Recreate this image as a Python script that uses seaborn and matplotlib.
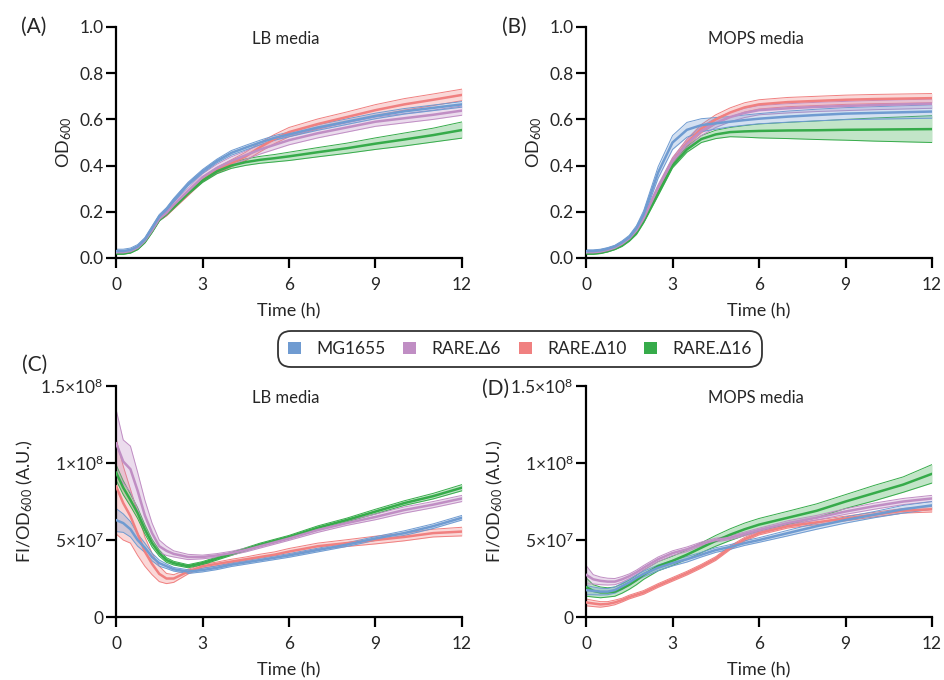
import numpy as np
import pandas as pd
import matplotlib
matplotlib.use("Agg")
import matplotlib.pyplot as plt
import seaborn as sns
from matplotlib.patches import Patch

# sampling times (h)
TIME = [0, 0.25, 0.5, 0.75, 1, 1.25, 1.5, 1.75, 2, 2.5, 3, 3.5, 4, 4.5, 5, 5.5, 6, 7, 8, 9, 10, 11, 12]

STRAINS = ["MG1655", "RARE.Δ6", "RARE.Δ10", "RARE.Δ16"]
COLORS = ["#6f9bd1", "#c08ec4", "#f08080", "#36ab4a"]
DRAW_ORDER = ["RARE.Δ10", "RARE.Δ16", "RARE.Δ6", "MG1655"]

# (A) OD600, LB media: mean and sd
LB_OD_MG1655 = [0.030, 0.030, 0.035, 0.050, 0.080, 0.130, 0.180, 0.210, 0.250, 0.320, 0.375, 0.420, 0.455, 0.478, 0.500, 0.520, 0.535, 0.565, 0.590, 0.615, 0.635, 0.650, 0.665]
LB_OD_MG1655_SD = [0.008, 0.008, 0.008, 0.008, 0.008, 0.008, 0.008, 0.008, 0.008, 0.008, 0.008, 0.008, 0.010, 0.010, 0.010, 0.010, 0.010, 0.012, 0.012, 0.012, 0.012, 0.012, 0.012]
LB_OD_D6 = [0.025, 0.025, 0.030, 0.045, 0.075, 0.120, 0.170, 0.195, 0.230, 0.290, 0.350, 0.390, 0.420, 0.445, 0.470, 0.490, 0.510, 0.540, 0.565, 0.590, 0.605, 0.620, 0.638]
LB_OD_D6_SD = [0.005, 0.005, 0.005, 0.005, 0.005, 0.006, 0.008, 0.008, 0.010, 0.012, 0.014, 0.016, 0.018, 0.018, 0.020, 0.020, 0.020, 0.020, 0.020, 0.020, 0.020, 0.020, 0.020]
LB_OD_D10 = [0.025, 0.025, 0.030, 0.045, 0.075, 0.120, 0.170, 0.190, 0.220, 0.280, 0.340, 0.380, 0.410, 0.440, 0.480, 0.515, 0.545, 0.580, 0.610, 0.640, 0.665, 0.685, 0.706]
LB_OD_D10_SD = [0.005, 0.005, 0.005, 0.005, 0.005, 0.006, 0.008, 0.008, 0.008, 0.010, 0.010, 0.012, 0.015, 0.018, 0.020, 0.020, 0.020, 0.022, 0.022, 0.024, 0.025, 0.025, 0.025]
LB_OD_D16 = [0.020, 0.020, 0.025, 0.040, 0.070, 0.115, 0.165, 0.190, 0.220, 0.280, 0.335, 0.375, 0.400, 0.415, 0.425, 0.432, 0.440, 0.458, 0.475, 0.495, 0.513, 0.532, 0.554]
LB_OD_D16_SD = [0.004, 0.004, 0.004, 0.004, 0.005, 0.005, 0.005, 0.005, 0.006, 0.006, 0.008, 0.010, 0.012, 0.014, 0.015, 0.016, 0.018, 0.020, 0.022, 0.025, 0.028, 0.030, 0.035]

# (B) OD600, MOPS media
MOPS_OD_MG1655 = [0.030, 0.030, 0.033, 0.040, 0.050, 0.068, 0.090, 0.130, 0.190, 0.370, 0.500, 0.555, 0.575, 0.583, 0.590, 0.597, 0.603, 0.612, 0.619, 0.625, 0.628, 0.631, 0.634]
MOPS_OD_MG1655_SD = [0.005, 0.005, 0.005, 0.005, 0.005, 0.006, 0.008, 0.010, 0.015, 0.025, 0.030, 0.032, 0.028, 0.025, 0.022, 0.022, 0.022, 0.024, 0.025, 0.026, 0.027, 0.028, 0.029]
MOPS_OD_D6 = [0.025, 0.025, 0.028, 0.035, 0.045, 0.062, 0.085, 0.120, 0.172, 0.305, 0.420, 0.495, 0.550, 0.585, 0.610, 0.628, 0.640, 0.648, 0.654, 0.658, 0.662, 0.665, 0.668]
MOPS_OD_D6_SD = [0.004, 0.004, 0.004, 0.004, 0.004, 0.005, 0.006, 0.008, 0.010, 0.012, 0.015, 0.018, 0.020, 0.020, 0.020, 0.020, 0.020, 0.020, 0.020, 0.020, 0.020, 0.020, 0.020]
MOPS_OD_D10 = [0.025, 0.025, 0.028, 0.035, 0.045, 0.062, 0.085, 0.120, 0.170, 0.300, 0.420, 0.500, 0.560, 0.600, 0.630, 0.652, 0.665, 0.675, 0.680, 0.685, 0.688, 0.690, 0.692]
MOPS_OD_D10_SD = [0.004, 0.004, 0.004, 0.004, 0.004, 0.005, 0.006, 0.008, 0.008, 0.010, 0.012, 0.015, 0.018, 0.020, 0.020, 0.020, 0.020, 0.020, 0.020, 0.020, 0.020, 0.020, 0.020]
MOPS_OD_D16 = [0.020, 0.020, 0.023, 0.030, 0.040, 0.055, 0.078, 0.110, 0.160, 0.280, 0.400, 0.470, 0.515, 0.535, 0.545, 0.548, 0.550, 0.552, 0.553, 0.555, 0.556, 0.557, 0.558]
MOPS_OD_D16_SD = [0.004, 0.004, 0.004, 0.004, 0.004, 0.005, 0.006, 0.008, 0.008, 0.010, 0.010, 0.012, 0.015, 0.018, 0.020, 0.025, 0.030, 0.035, 0.040, 0.045, 0.050, 0.054, 0.058]

# (C) FI/OD600, LB media, in units of 1e7
LB_FI_MG1655 = [6.3, 6.1, 5.7, 5.0, 4.5, 3.9, 3.5, 3.3, 3.1, 2.95, 3.05, 3.2, 3.4, 3.55, 3.7, 3.85, 4.0, 4.35, 4.7, 5.1, 5.45, 5.9, 6.45]
LB_FI_MG1655_SD = [0.75, 0.6, 0.5, 0.4, 0.3, 0.25, 0.2, 0.15, 0.12, 0.12, 0.12, 0.12, 0.12, 0.12, 0.12, 0.12, 0.12, 0.12, 0.12, 0.12, 0.15, 0.15, 0.15]
LB_FI_D6 = [11.3, 10.1, 9.6, 8.2, 6.6, 5.45, 4.6, 4.3, 4.1, 3.9, 3.9, 4.0, 4.15, 4.35, 4.6, 4.85, 5.1, 5.65, 6.1, 6.5, 6.95, 7.3, 7.7]
LB_FI_D6_SD = [2.2, 1.4, 1.5, 1.2, 1.0, 0.65, 0.4, 0.3, 0.2, 0.17, 0.12, 0.12, 0.12, 0.12, 0.12, 0.12, 0.12, 0.15, 0.15, 0.18, 0.2, 0.2, 0.2]
LB_FI_D10 = [8.5, 7.4, 6.55, 5.4, 4.25, 3.45, 2.8, 2.5, 2.5, 2.95, 3.3, 3.45, 3.6, 3.75, 3.9, 4.05, 4.25, 4.6, 4.8, 5.0, 5.2, 5.45, 5.55]
LB_FI_D10_SD = [3.1, 2.4, 1.75, 1.4, 0.95, 0.7, 0.5, 0.33, 0.25, 0.15, 0.12, 0.12, 0.15, 0.15, 0.18, 0.18, 0.2, 0.2, 0.22, 0.25, 0.25, 0.25, 0.28]
LB_FI_D16 = [9.4, 8.4, 7.6, 6.75, 5.7, 4.8, 4.15, 3.7, 3.5, 3.3, 3.5, 3.8, 4.1, 4.4, 4.7, 4.95, 5.2, 5.8, 6.3, 6.85, 7.4, 7.85, 8.4]
LB_FI_D16_SD = [0.5, 0.45, 0.4, 0.35, 0.3, 0.25, 0.2, 0.15, 0.12, 0.1, 0.1, 0.1, 0.1, 0.1, 0.1, 0.1, 0.1, 0.12, 0.12, 0.15, 0.15, 0.18, 0.2]

# (D) FI/OD600, MOPS media, in units of 1e7
MOPS_FI_MG1655 = [1.75, 1.7, 1.65, 1.65, 1.75, 2.0, 2.25, 2.55, 2.8, 3.2, 3.5, 3.75, 4.05, 4.35, 4.55, 4.8, 5.0, 5.45, 5.9, 6.3, 6.65, 7.0, 7.25]
MOPS_FI_MG1655_SD = [0.3, 0.25, 0.22, 0.2, 0.2, 0.2, 0.18, 0.18, 0.18, 0.18, 0.18, 0.18, 0.15, 0.15, 0.15, 0.15, 0.15, 0.18, 0.2, 0.2, 0.2, 0.25, 0.25]
MOPS_FI_D6 = [2.75, 2.45, 2.35, 2.3, 2.3, 2.45, 2.65, 2.9, 3.2, 3.75, 4.15, 4.4, 4.75, 5.0, 5.15, 5.4, 5.65, 6.1, 6.45, 6.85, 7.2, 7.5, 7.7]
MOPS_FI_D6_SD = [0.6, 0.3, 0.25, 0.22, 0.2, 0.18, 0.15, 0.15, 0.15, 0.15, 0.15, 0.15, 0.12, 0.12, 0.12, 0.12, 0.12, 0.15, 0.15, 0.18, 0.2, 0.2, 0.2]
MOPS_FI_D10 = [0.95, 0.88, 0.82, 0.85, 0.95, 1.1, 1.3, 1.45, 1.6, 2.05, 2.45, 2.85, 3.3, 3.8, 4.5, 5.05, 5.45, 5.9, 6.15, 6.4, 6.65, 6.9, 7.0]
MOPS_FI_D10_SD = [0.22, 0.2, 0.18, 0.15, 0.15, 0.12, 0.12, 0.12, 0.12, 0.12, 0.12, 0.12, 0.12, 0.12, 0.12, 0.12, 0.12, 0.12, 0.15, 0.15, 0.15, 0.15, 0.18]
MOPS_FI_D16 = [1.95, 1.7, 1.6, 1.6, 1.65, 1.85, 2.1, 2.4, 2.75, 3.3, 3.65, 4.05, 4.5, 4.95, 5.35, 5.7, 6.0, 6.45, 6.9, 7.5, 8.05, 8.6, 9.3]
MOPS_FI_D16_SD = [0.6, 0.4, 0.35, 0.3, 0.3, 0.3, 0.3, 0.3, 0.3, 0.3, 0.3, 0.3, 0.32, 0.35, 0.38, 0.4, 0.4, 0.42, 0.45, 0.45, 0.5, 0.5, 0.6]

OD_TICKS = [0.0, 0.2, 0.4, 0.6, 0.8, 1.0]
FI_TICKS = [0, 5e7, 1e8, 1.5e8]
FI_TICK_LABELS = ["0", r"$\mathregular{5{\times}10^{7}}$", r"$\mathregular{1{\times}10^{8}}$", r"$\mathregular{1.5{\times}10^{8}}$"]


def make_frame(series, scale=1.0):
    rows = []
    for strain, (mean, sd) in zip(STRAINS, series):
        rows.append(pd.DataFrame({"time": TIME, "value": np.array(mean) * scale,
                                  "sd": np.array(sd) * scale, "strain": strain}))
    return pd.concat(rows, ignore_index=True)


def draw_panel(ax, df, title, ylim, yticks, yticklabels, ylabel):
    pal = dict(zip(STRAINS, COLORS))
    for s in DRAW_ORDER:
        d = df[df["strain"] == s]
        lo = d["value"] - d["sd"]
        hi = d["value"] + d["sd"]
        ax.fill_between(d["time"], lo, hi, color=pal[s], alpha=0.3, lw=0, zorder=2)
        ax.plot(d["time"], lo, color=pal[s], lw=0.7, zorder=2)
        ax.plot(d["time"], hi, color=pal[s], lw=0.7, zorder=2)
        sns.lineplot(data=d, x="time", y="value", color=pal[s], lw=1.8,
                     ax=ax, zorder=3, legend=False)
    ax.set_xlim(0, 12)
    ax.set_ylim(*ylim)
    ax.set_xticks([0, 3, 6, 9, 12])
    ax.set_yticks(yticks)
    ax.set_yticklabels(yticklabels)
    ax.set_xlabel("Time (h)", fontsize=13, labelpad=7)
    ax.set_ylabel(ylabel, fontsize=13, labelpad=4)
    ax.text(0.49, 0.95, title, transform=ax.transAxes, ha="center", va="center", fontsize=12)
    sns.despine(ax=ax)
    for sp in ("left", "bottom"):
        ax.spines[sp].set_linewidth(1.6)
        ax.spines[sp].set_color("black")
    ax.tick_params(axis="both", length=7, width=1.6, labelsize=12.5, color="black")
    ax.tick_params(axis="x", pad=7)
    ax.tick_params(axis="y", pad=2)


sns.set_style("ticks")
plt.rcParams["font.family"] = ["Lato", "DejaVu Sans"]
plt.rcParams["mathtext.fontset"] = "custom"
plt.rcParams["mathtext.rm"] = "Lato"
plt.rcParams["mathtext.it"] = "Lato:italic"

fig = plt.figure(figsize=(9.44, 6.8), dpi=100)
w, h = 0.3665, 0.3397
ax_a = fig.add_axes([0.1229, 0.6206, w, h])
ax_b = fig.add_axes([0.6208, 0.6206, w, h])
ax_c = fig.add_axes([0.1229, 0.0926, w, h])
ax_d = fig.add_axes([0.6208, 0.0926, w, h])

od_labels = [f"{v:.1f}" for v in OD_TICKS]
od_ylabel = r"OD$_{\mathregular{600}}$"
fi_ylabel = r"FI/OD$_{\mathregular{600}}$ (A.U.)"

lb_od = make_frame([(LB_OD_MG1655, LB_OD_MG1655_SD), (LB_OD_D6, LB_OD_D6_SD),
                    (LB_OD_D10, LB_OD_D10_SD), (LB_OD_D16, LB_OD_D16_SD)])
mops_od = make_frame([(MOPS_OD_MG1655, MOPS_OD_MG1655_SD), (MOPS_OD_D6, MOPS_OD_D6_SD),
                      (MOPS_OD_D10, MOPS_OD_D10_SD), (MOPS_OD_D16, MOPS_OD_D16_SD)])
lb_fi = make_frame([(LB_FI_MG1655, LB_FI_MG1655_SD), (LB_FI_D6, LB_FI_D6_SD),
                    (LB_FI_D10, LB_FI_D10_SD), (LB_FI_D16, LB_FI_D16_SD)], 1e7)
mops_fi = make_frame([(MOPS_FI_MG1655, MOPS_FI_MG1655_SD), (MOPS_FI_D6, MOPS_FI_D6_SD),
                      (MOPS_FI_D10, MOPS_FI_D10_SD), (MOPS_FI_D16, MOPS_FI_D16_SD)], 1e7)

draw_panel(ax_a, lb_od, "LB media", (0, 1.0), OD_TICKS, od_labels, od_ylabel)
draw_panel(ax_b, mops_od, "MOPS media", (0, 1.0), OD_TICKS, od_labels, od_ylabel)
draw_panel(ax_c, lb_fi, "LB media", (0, 1.5e8), FI_TICKS, FI_TICK_LABELS, fi_ylabel)
draw_panel(ax_d, mops_fi, "MOPS media", (0, 1.5e8), FI_TICKS, FI_TICK_LABELS, fi_ylabel)

for lab, x, y in [("(A)", 0.036, 0.960), ("(B)", 0.5445, 0.960),
                  ("(C)", 0.037, 0.463), ("(D)", 0.5245, 0.4287)]:
    fig.text(x, y, lab, ha="center", va="center", fontsize=15)

handles = [Patch(facecolor=c, edgecolor="none") for c in COLORS]
leg = fig.legend(handles, STRAINS, loc="center", bbox_to_anchor=(0.5508, 0.4868), ncol=4,
                 frameon=True, fancybox=True, fontsize=12.5, handlelength=0.75,
                 handleheight=0.75, handletextpad=0.9, columnspacing=1.0, borderpad=0.55)
frame = leg.get_frame()
frame.set_edgecolor("black")
frame.set_linewidth(1.3)
frame.set_boxstyle("round,pad=0,rounding_size=0.7")

fig.savefig("out.png", dpi=100)
